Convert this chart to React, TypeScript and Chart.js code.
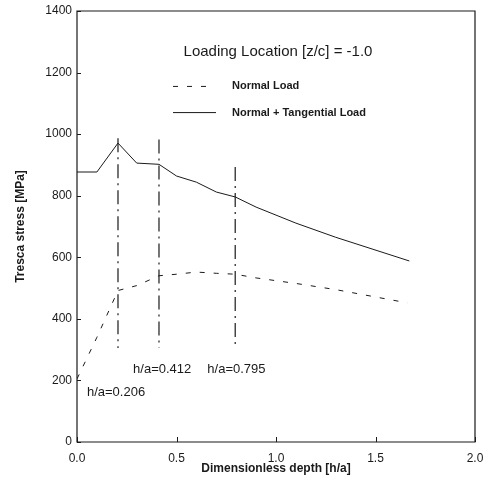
import React, { useEffect, useRef } from "react";
import { Chart, registerables } from "chart.js";

Chart.register(...registerables);

const depthNT = [0, 0.1, 0.206, 0.3, 0.412, 0.5, 0.6, 0.7, 0.795, 0.9, 1.1, 1.3, 1.67];
const stressNT = [877, 877, 971, 906, 902, 864, 844, 812, 796, 763, 711, 665, 588];

const depthN = [0, 0.1, 0.206, 0.3, 0.412, 0.5, 0.6, 0.7, 0.795, 0.9, 1.1, 1.3, 1.66];
const stressN = [205, 340, 492, 508, 540, 545, 552, 548, 545, 533, 515, 495, 452];

const markerDepths = [0.206, 0.412, 0.795];
const markerTops = [987, 983, 893];
const markerBottom = 305;
const markerLabels = ["h/a=0.206", "h/a=0.412", "h/a=0.795"];
const markerLabelPos = [
  [0.05, 162],
  [0.282, 237],
  [0.655, 237],
];

const yTicks = [0, 200, 400, 600, 800, 1000, 1200, 1400];
const xTicks = [0, 0.5, 1.0, 1.5, 2.0];

const titleText = "Loading Location [z/c] = -1.0";
const xTitle = "Dimensionless depth [h/a]";
const yTitle = "Tresca stress [MPa]";
const seriesNames = ["Normal Load", "Normal + Tangential Load"];

const FONT = "'Liberation Sans', Arial, Helvetica, sans-serif";
const INK = "#1a1a1a";

const decorPlugin = {
  id: "decor",
  afterDraw(chart: any) {
    const { ctx, chartArea, scales } = chart;
    const xs = scales.x;
    const ys = scales.y;
    ctx.save();
    // frame
    ctx.strokeStyle = INK;
    ctx.lineWidth = 1.2;
    ctx.beginPath();
    ctx.rect(chartArea.left, chartArea.top, chartArea.right - chartArea.left, chartArea.bottom - chartArea.top);
    ctx.stroke();
    // inward ticks
    ctx.lineWidth = 1;
    ctx.beginPath();
    for (const v of yTicks) {
      const py = Math.round(ys.getPixelForValue(v)) + 0.5;
      ctx.moveTo(chartArea.left, py);
      ctx.lineTo(chartArea.left + 4, py);
    }
    for (const v of xTicks) {
      const px = Math.round(xs.getPixelForValue(v)) + 0.5;
      ctx.moveTo(px, chartArea.bottom);
      ctx.lineTo(px, chartArea.bottom - 5);
    }
    ctx.stroke();

    ctx.fillStyle = INK;
    // title
    ctx.font = `15px ${FONT}`;
    ctx.textAlign = "center";
    ctx.textBaseline = "middle";
    ctx.fillText(titleText, xs.getPixelForValue(1.01), ys.getPixelForValue(1266));

    // legend
    const lx0 = chartArea.left + 96;
    const lx1 = chartArea.left + 135;
    const tx = chartArea.left + 155;
    const ly = [ys.getPixelForValue(1155), ys.getPixelForValue(1070)];
    ctx.lineWidth = 1;
    ctx.setLineDash([5, 9]);
    ctx.beginPath();
    ctx.moveTo(lx0, ly[0]);
    ctx.lineTo(lx1, ly[0]);
    ctx.stroke();
    ctx.setLineDash([]);
    ctx.beginPath();
    ctx.moveTo(lx0, ly[1]);
    ctx.lineTo(lx1 + 4, ly[1]);
    ctx.stroke();
    ctx.font = `bold 11px ${FONT}`;
    ctx.textAlign = "left";
    ctx.fillText(seriesNames[0], tx, ly[0]);
    ctx.fillText(seriesNames[1], tx, ly[1]);

    // marker labels
    ctx.font = `13px ${FONT}`;
    markerLabels.forEach((t, i) => {
      ctx.fillText(t, xs.getPixelForValue(markerLabelPos[i][0]), ys.getPixelForValue(markerLabelPos[i][1]));
    });

    // axis titles
    ctx.font = `bold 12px ${FONT}`;
    ctx.textAlign = "center";
    ctx.fillText(xTitle, (chartArea.left + chartArea.right) / 2, 469);
    ctx.save();
    ctx.translate(21, (chartArea.top + chartArea.bottom) / 2 + 0);
    ctx.rotate(-Math.PI / 2);
    ctx.fillText(yTitle, 0, 0);
    ctx.restore();
    ctx.restore();
  },
};

export default function App() {
  const ref = useRef<HTMLCanvasElement>(null);
  useEffect(() => {
    if (!ref.current) return;
    const markerSets = markerDepths.map((d, i) => ({
      label: "marker" + i,
      data: [
        { x: d, y: markerTops[i] },
        { x: d, y: markerBottom },
      ],
      borderColor: INK,
      borderWidth: 1.2,
      borderDash: [14, 5, 2, 5],
      pointRadius: 0,
      fill: false,
    }));
    const chart = new Chart(ref.current, {
      type: "line",
      data: {
        datasets: [
          {
            label: seriesNames[0],
            data: depthN.map((x, i) => ({ x, y: stressN[i] })),
            borderColor: INK,
            borderWidth: 1,
            borderDash: [5, 9],
            pointRadius: 0,
            fill: false,
            tension: 0,
          },
          {
            label: seriesNames[1],
            data: depthNT.map((x, i) => ({ x, y: stressNT[i] })),
            borderColor: INK,
            borderWidth: 1,
            pointRadius: 0,
            fill: false,
            tension: 0,
          },
          ...markerSets,
        ],
      },
      options: {
        responsive: false,
        animation: false,
        layout: { padding: { top: 11, right: 18, left: 0, bottom: 0 } },
        plugins: { legend: { display: false }, tooltip: { enabled: false }, title: { display: false } },
        scales: {
          x: {
            type: "linear",
            min: 0,
            max: 2,
            afterBuildTicks: (s: any) => {
              s.ticks = xTicks.map((v) => ({ value: v }));
            },
            afterFit: (s: any) => {
              s.height = 44;
              s.paddingLeft = 0;
              s.paddingRight = 0;
            },
            grid: { display: false, drawTicks: false },
            border: { display: false },
            ticks: {
              padding: 9,
              color: INK,
              font: { family: FONT, size: 12 },
              maxRotation: 0,
              autoSkip: false,
              callback: (v: any) => Number(v).toFixed(1),
            },
          },
          y: {
            type: "linear",
            min: 0,
            max: 1400,
            afterBuildTicks: (s: any) => {
              s.ticks = yTicks.map((v) => ({ value: v }));
            },
            afterFit: (s: any) => {
              s.width = 77;
              s.paddingTop = 0;
              s.paddingBottom = 0;
            },
            grid: { display: false, drawTicks: false },
            border: { display: false },
            ticks: {
              padding: 5,
              color: INK,
              font: { family: FONT, size: 12 },
              autoSkip: false,
              callback: (v: any) => String(v),
            },
          },
        },
      },
      plugins: [decorPlugin],
    });
    return () => chart.destroy();
  }, []);
  return (
    <div style={{ position: "fixed", left: 0, top: 0, width: 493, height: 486, background: "#fff" }}>
      <canvas ref={ref} width={493} height={486} style={{ width: 493, height: 486, display: "block" }} />
    </div>
  );
}
